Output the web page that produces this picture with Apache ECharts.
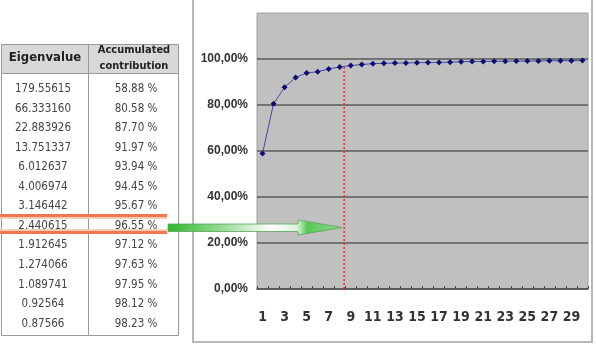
<!DOCTYPE html>
<html>
<head>
<meta charset="utf-8">
<script src="https://cdn.jsdelivr.net/npm/echarts@6/dist/echarts.min.js"></script>
<style>
  html, body { margin: 0; padding: 0; background: #fff; }
  #main { width: 596px; height: 346px; }
</style>
</head>
<body>
<div id="main"></div>
<script>
// principal components (x axis)
var components = ['1', '2', '3', '4', '5', '6', '7', '8', '9', '10',
  '11', '12', '13', '14', '15', '16', '17', '18', '19', '20',
  '21', '22', '23', '24', '25', '26', '27', '28', '29', '30']
// accumulated contribution, % (first 13 from the table, the rest)
var accumulated = [58.88, 80.58, 87.70, 91.97, 93.94, 94.45, 95.67, 96.55, 97.12, 97.63,
  97.95, 98.12, 98.23, 98.30, 98.38, 98.45, 98.52, 98.58, 98.85, 98.90,
  98.95, 99.00, 99.04, 99.08, 99.12, 99.16, 99.20, 99.24, 99.28, 99.32]
// eigenvalues shown in the table
var eigenvalues = ['179.55615', '66.333160', '22.883926', '13.751337', '6.012637', '4.006974',
  '3.146442', '2.440615', '1.912645', '1.274066', '1.089741', '0.92564', '0.87566']
var highlightRow = 7 // 2.440615 / 96.55 %
var cutoffX = 8.4 // where the red dashed line is drawn (component axis)

var NARROW = "'DejaVu Sans Condensed', 'DejaVu Sans', sans-serif"

var myChart = echarts.init(document.getElementById('main'))

// table drawn with graphic elements
var graphics = [
  // frame round the chart
  { type: 'rect', z: 1, shape: { x: 193, y: -3, width: 399, height: 345 },
    style: { fill: 'none', stroke: '#b8b8b8', lineWidth: 2 } },
  // table header + body
  { type: 'rect', z: 1, shape: { x: 1.5, y: 44.5, width: 177, height: 29 },
    style: { fill: '#d8d8d8', stroke: '#999', lineWidth: 1 } },
  { type: 'rect', z: 1, shape: { x: 1.5, y: 73.5, width: 177, height: 262 },
    style: { fill: '#fff', stroke: '#999', lineWidth: 1 } },
  { type: 'line', z: 2, shape: { x1: 88.5, y1: 44.5, x2: 88.5, y2: 335.5 },
    style: { stroke: '#999', lineWidth: 1 } },
  { type: 'text', z: 3, x: 45, y: 58,
    style: { text: 'Eigenvalue', font: 'bold 13px ' + NARROW, fill: '#222', align: 'center', verticalAlign: 'middle' } },
  { type: 'text', z: 3, x: 134, y: 50,
    style: { text: 'Accumulated', font: 'bold 11px ' + NARROW, fill: '#222', align: 'center', verticalAlign: 'middle' } },
  { type: 'text', z: 3, x: 134, y: 66,
    style: { text: 'contribution', font: 'bold 11px ' + NARROW, fill: '#222', align: 'center', verticalAlign: 'middle' } }
]

eigenvalues.forEach(function (ev, i) {
  var y = 89 + i * 19.56
  graphics.push({ type: 'text', z: 3, x: 43, y: y,
    style: { text: ev, font: '11.5px ' + NARROW, fill: '#444', align: 'center', verticalAlign: 'middle' } })
  graphics.push({ type: 'text', z: 3, x: 136, y: y,
    style: { text: accumulated[i].toFixed(2) + ' %', font: '11.5px ' + NARROW, fill: '#444', align: 'center', verticalAlign: 'middle' } })
})

// orange highlight round the 8th row
var hy = 89 + highlightRow * 19.56
graphics.push(
  { type: 'rect', z: 4, shape: { x: 0, y: hy - 12, width: 167, height: 3 }, style: { fill: '#f27650' } },
  { type: 'rect', z: 4, shape: { x: 0, y: hy - 9, width: 167, height: 2 }, style: { fill: '#f9cabb' } },
  { type: 'rect', z: 4, shape: { x: 0, y: hy + 3, width: 167, height: 2 }, style: { fill: '#f9cabb' } },
  { type: 'rect', z: 4, shape: { x: 0, y: hy + 5, width: 167, height: 3 }, style: { fill: '#f27650' } }
)

// green arrow from the table into the plot
graphics.push({
  type: 'polygon', z: 100,
  shape: { points: [[168, 224], [298, 224], [298, 220], [342, 227.5], [298, 235], [298, 231.5], [168, 231.5]] },
  style: {
    fill: new echarts.graphic.LinearGradient(0, 0, 1, 0, [
      { offset: 0, color: '#2fb52f' },
      { offset: 0.3, color: '#92db92' },
      { offset: 0.6, color: '#ffffff' },
      { offset: 0.74, color: '#d9f3d9' },
      { offset: 0.8, color: '#56c856' },
      { offset: 1, color: '#8ede8e' }
    ]),
    stroke: '#5aa55a',
    lineWidth: 0.8
  }
})

var option = {
  animation: false,
  graphic: graphics,
  grid: {
    left: 257,
    top: 13,
    width: 331,
    height: 276,
    show: true,
    backgroundColor: '#c0c0c0',
    borderColor: '#a0a0a0',
    borderWidth: 1
  },
  xAxis: [
    {
      type: 'category',
      data: components,
      boundaryGap: true,
      z: 3,
      axisLine: { show: true, lineStyle: { color: '#555', width: 1.5 } },
      axisTick: { show: true, inside: true, length: 3, interval: 0, lineStyle: { color: '#444' } },
      axisLabel: {
        interval: 1,
        margin: 21,
        color: '#333',
        fontSize: 14,
        fontWeight: 'bold',
        fontFamily: NARROW
      },
      splitLine: { show: false }
    },
    {
      type: 'value',
      min: 0.5,
      max: 30.5,
      show: false
    }
  ],
  yAxis: {
    type: 'value',
    min: 0,
    max: 120,
    interval: 20,
    z: 3,
    axisLine: { show: false },
    axisTick: { show: false },
    axisLabel: {
      margin: 9,
      color: '#333',
      fontSize: 12,
      fontWeight: 'bold',
      fontFamily: "'Liberation Sans', Arial, sans-serif",
      formatter: function (v) {
        return v === 120 ? '' : v.toFixed(2).replace('.', ',') + '%'
      }
    },
    splitLine: { show: true, showMaxLine: false, lineStyle: { color: '#5a5a5a', width: 1.5 } }
  },
  series: [
    {
      name: 'Accumulated contribution',
      type: 'line',
      data: accumulated,
      symbol: 'diamond',
      symbolSize: 6,
      itemStyle: { color: '#0c0c72' },
      lineStyle: { color: '#4646a8', width: 1 },
      z: 5
    },
    {
      name: 'cutoff',
      type: 'line',
      xAxisIndex: 1,
      data: [[cutoffX, accumulated[highlightRow]], [cutoffX, -1]],
      symbol: 'none',
      silent: true,
      clip: false,
      lineStyle: { color: '#f03030', width: 1.5, type: [2, 2] },
      z: 4
    }
  ]
}

myChart.setOption(option)
</script>
</body>
</html>
